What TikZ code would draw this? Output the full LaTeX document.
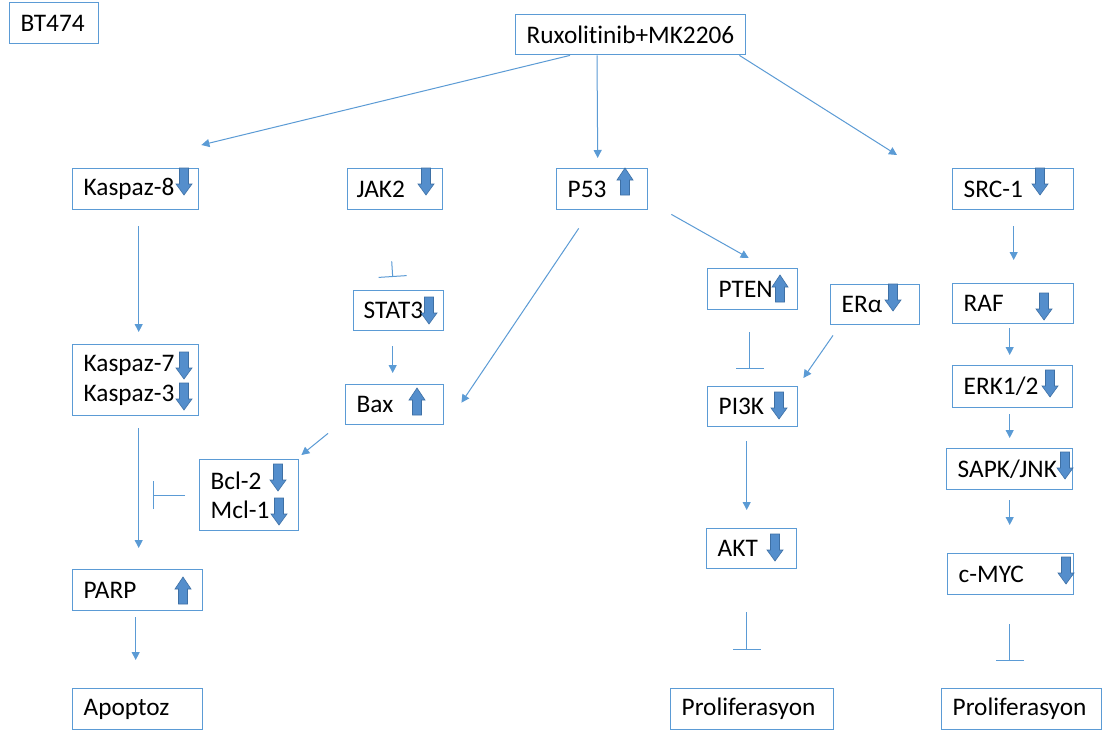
\documentclass[tikz,border=0pt]{standalone}
\usepackage{fontspec}
\setmainfont[RawFeature=-liga]{Carlito}
\usetikzlibrary{arrows.meta,calc}
\definecolor{edge}{HTML}{5B9BD5}
\definecolor{fat}{RGB}{84,142,204}
\definecolor{fatrim}{RGB}{62,112,165}

\tikzset{
  box/.style={draw=edge, line width=1.4pt, rectangle, anchor=north west,
    inner xsep=11pt, inner ysep=0pt, align=left, text=black,
    font=\fontsize{25.3}{29.5}\selectfont},
  arr/.style={draw=edge, line width=1pt, -{Triangle[width=8pt,length=8pt]}},
  inh/.style={draw=edge, line width=1pt, -{Bar[width=28pt]}},
  down/.pic={\filldraw[fill=fat, draw=fatrim, line width=0.6pt]
    (-4.5,0) -- (4.5,0) -- (4.5,16) -- (8,16) -- (0,27) -- (-8,16) -- (-4.5,16) -- cycle;},
  up/.pic={\filldraw[fill=fat, draw=fatrim, line width=0.6pt]
    (0,0) -- (8,12) -- (4.5,12) -- (4.5,27) -- (-4.5,27) -- (-4.5,12) -- (-8,12) -- cycle;},
}

\begin{document}
\begin{tikzpicture}[x=1pt, y=-1pt]
\useasboundingbox[fill=white] (0,0) rectangle (1102,733);

% boxes
\node[box, text width=67pt,  minimum height=41pt] (bt)   at (9,2)     {BT474};
\node[box, text width=208pt, minimum height=40pt] (rux)  at (515,14)  {Ruxolitinib+MK2206};
\node[box, text width=104pt, minimum height=41pt] (k8)   at (72,168)  {Kaspaz-8};
\node[box, text width=77pt,  minimum height=41pt, inner xsep=9pt] (jak) at (347,168) {JAK2};
\node[box, text width=69pt,  minimum height=41pt] (p53)  at (556,168) {P53};
\node[box, text width=99pt,  minimum height=41pt] (src)  at (952,168) {SRC-1};
\node[box, text width=104pt, minimum height=71pt] (k7)   at (72,344)  {Kaspaz-7\\Kaspaz-3};
\node[box, text width=77pt,  minimum height=71pt] (bcl)  at (199,459) {Bcl-2\\Mcl-1};
\node[box, text width=70pt,  minimum height=40pt, inner xsep=10pt] (stat) at (353,290) {STAT3};
\node[box, text width=76pt,  minimum height=40pt] (bax)  at (345,384) {Bax};
\node[box, text width=68pt,  minimum height=41pt] (pten) at (707,268) {PTEN};
\node[box, text width=67pt,  minimum height=40pt] (era)  at (830,284) {ERα};
\node[box, text width=99pt,  minimum height=40pt] (raf)  at (952,283) {RAF};
\node[box, text width=98pt,  minimum height=42pt] (erk)  at (952,365) {ERK1/2};
\node[box, text width=68pt,  minimum height=40pt] (pik)  at (707,386) {PI3K};
\node[box, text width=104pt, minimum height=41pt] (sapk) at (946,448) {SAPK/JNK};
\node[box, text width=104pt, minimum height=41pt] (myc)  at (947,553) {c-MYC};
\node[box, text width=68pt,  minimum height=40pt] (akt)  at (706,528) {AKT};
\node[box, text width=141pt, minimum height=41pt] (pro1) at (670,688) {Proliferasyon};
\node[box, text width=138pt, minimum height=41pt] (pro2) at (941,688) {Proliferasyon};
\node[box, text width=108pt, minimum height=41pt] (parp) at (72,569)  {PARP};
\node[box, text width=108pt, minimum height=41pt] (apop) at (72,688)  {Apoptoz};

% up / down markers
\pic at (184,168) {down};
\pic at (426,168) {down};
\pic at (625,168) {up};
\pic at (1040,168) {down};
\pic at (184,352) {down};
\pic at (184,383) {down};
\pic at (278,464) {down};
\pic at (279,498) {down};
\pic at (429,297) {down};
\pic at (417,388) {up};
\pic at (780,275) {up};
\pic at (893,284) {down};
\pic at (1044,293) {down};
\pic at (1050,370) {down};
\pic at (779,392) {down};
\pic at (1065,452) {down};
\pic at (1066,557) {down};
\pic at (775,534) {down};
\pic at (183,577) {up};

% connectors
\draw[arr] ($(rux.south west)+(55,0)$) -- ($(k8.north east)+(2,-23)$);
\draw[arr] ($(rux.south west)+(82,0)$) -- ($(p53.north)+(-4.5,-10)$);
\draw[arr] ($(rux.south east)+(-7,0)$) -- ($(src.north west)+(-55,-13)$);

\draw[arr] ($(k8.south)+(3,16)$) -- ($(k7.north)+(3,-12)$);
\draw[arr] ($(k7.south)+(3,12)$) -- ($(parp.north)+(1,-21)$);
\draw[arr] ($(parp.south)+(-2,6)$) -- ($(apop.north)+(-2,-28)$);
\draw[inh] ($(bcl.west)+(-14,0)$) -- ($(bcl.west)+(-46,0)$);

\draw[inh] ($(jak.south)+(-3.5,51)$) -- ($(stat.north)+(-6,-13)$);
\draw[arr] ($(stat.south)+(-6,15)$) -- ($(bax.north)+(-2,-11)$);
\draw[arr] ($(p53.south)+(-23.5,18)$) -- ($(bax.east)+(17,-2)$);
\draw[arr] ($(bax.south west)+(-17,8)$) -- ($(bcl.north east)+(2,-4)$);

\draw[arr] ($(p53.south east)+(23,4)$) -- ($(pten.north)+(-4,-10)$);
\draw[inh] ($(pten.south)+(-3,22)$) -- ($(pik.north)+(-3,-17)$);
\draw[arr] ($(era.south west)+(3,10)$) -- ($(pik.north east)+(5,-8)$);
\draw[arr] ($(pik.south)+(-6,14)$) -- ($(akt.north)+(-5,-18)$);
\draw[inh] ($(akt.south)+(-5,43)$) -- ($(pro1.north)+(-5.5,-38)$);

\draw[arr] ($(src.south)+(0.5,16)$) -- ($(raf.north)+(0.5,-23)$);
\draw[arr] ($(raf.south)+(-3.5,4)$) -- ($(erk.north)+(-3,-10)$);
\draw[arr] ($(erk.south)+(-3,6)$) -- ($(sapk.north)+(0,-10)$);
\draw[arr] ($(sapk.south)+(0,10)$) -- ($(myc.north)+(-1,-28)$);
\draw[inh] ($(myc.south)+(-1,29)$) -- ($(pro2.north)+(-12,-27)$);
\end{tikzpicture}
\end{document}
